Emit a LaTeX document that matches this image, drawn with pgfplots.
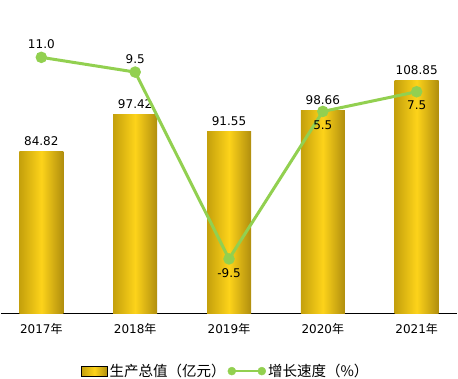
\documentclass[border=0pt]{standalone}
\usepackage{fontspec}
\setmainfont{DejaVu Sans}
\newfontfamily\cjk{Noto Sans CJK SC}
\usepackage{pgfplots}
\usepackage{pgfplotstable}
\pgfplotsset{compat=1.18}
\definecolor{gdark}{HTML}{C4A00C}
\definecolor{gdarkr}{HTML}{B08E0E}
\definecolor{glight}{HTML}{FDD31A}
\definecolor{lgreen}{HTML}{92D050}
\pgfplotstableread{
x g
0 11.0
1 9.5
2 -9.5
3 5.5
4 7.5
}\growth
\pgfplotstableread{
x g lab
0 11.0 11.0
1 9.5 9.5
}\growthup
\pgfplotstableread{
x g lab
2 -9.5 -9.5
3 5.5 5.5
4 7.5 7.5
}\growthdown
\pgfplotsset{goldbar/.style={ybar, bar width=44pt, draw=none, left color=gdark, right color=gdarkr, middle color=glight,
  nodes near coords, point meta=explicit symbolic,
  nodes near coords style={font=\fontsize{12}{14}\selectfont, text=black, anchor=south, yshift=2pt}}}
\begin{document}
\begin{tikzpicture}
\useasboundingbox (0,0) rectangle (458pt,378pt);
\begin{axis}[at={(1pt,65pt)}, anchor=south west, scale only axis,
  width=456pt, height=295pt, xmin=-0.43, xmax=4.43, ymin=30, ymax=130,
  axis x line*=bottom, axis y line=none, axis line style={black, line width=0.8pt, -},
  xtick={0,1,2,3,4}, xticklabels={2017{\cjk 年},2018{\cjk 年},2019{\cjk 年},2020{\cjk 年},2021{\cjk 年}},
  major tick length=0pt, ytick=\empty,
  xticklabel style={font=\fontsize{12}{14}\selectfont, yshift=-7pt},
  clip=false]
\addplot[goldbar] coordinates {(0,84.82) [84.82]};
\addplot[goldbar] coordinates {(1,97.42) [97.42]};
\addplot[goldbar] coordinates {(2,91.55) [91.55]};
\addplot[goldbar] coordinates {(3,98.66) [98.66]};
\addplot[goldbar] coordinates {(4,108.85) [108.85]};
\end{axis}
\begin{axis}[at={(1pt,65pt)}, anchor=south west, scale only axis,
  width=456pt, height=295pt, xmin=-0.43, xmax=4.43, ymin=-15, ymax=15,
  hide axis, clip=false,
  legend columns=2,
  legend style={draw=none, fill=none, at={(0.493,-0.197)}, anchor=center,
    font=\fontsize{14.5}{17}\selectfont\cjk,
    /tikz/every even column/.append style={column sep=0pt}},
  ]
\addlegendimage{legend image code/.code={\fill[left color=gdark, right color=gdarkr, middle color=glight] (0pt,-5pt) rectangle (26pt,5pt);}}
\addlegendentry{生产总值（亿元）}
\addlegendimage{legend image code/.code={\draw[lgreen, line width=2.5pt] (2pt,0pt)--(32pt,0pt); \fill[lgreen] (2pt,0pt) circle (4pt) (32pt,0pt) circle (4pt);}}
\addlegendentry{增长速度（\%）}
\addplot[lgreen, line width=3pt, mark=*, mark size=4.2pt, mark options={fill=lgreen, draw=lgreen}]
  table[x=x, y=g]{\growth};
\addplot[draw=none, mark=none, nodes near coords, point meta=explicit symbolic,
  nodes near coords style={font=\fontsize{12}{14}\selectfont, text=black, anchor=south, inner sep=6pt, yshift=2pt}]
  table[x=x, y=g, meta=lab]{\growthup};
\addplot[draw=none, mark=none, nodes near coords, point meta=explicit symbolic,
  nodes near coords style={font=\fontsize{12}{14}\selectfont, text=black, anchor=north, inner sep=6pt, yshift=-3pt}]
  table[x=x, y=g, meta=lab]{\growthdown};
\end{axis}
\end{tikzpicture}
\end{document}
